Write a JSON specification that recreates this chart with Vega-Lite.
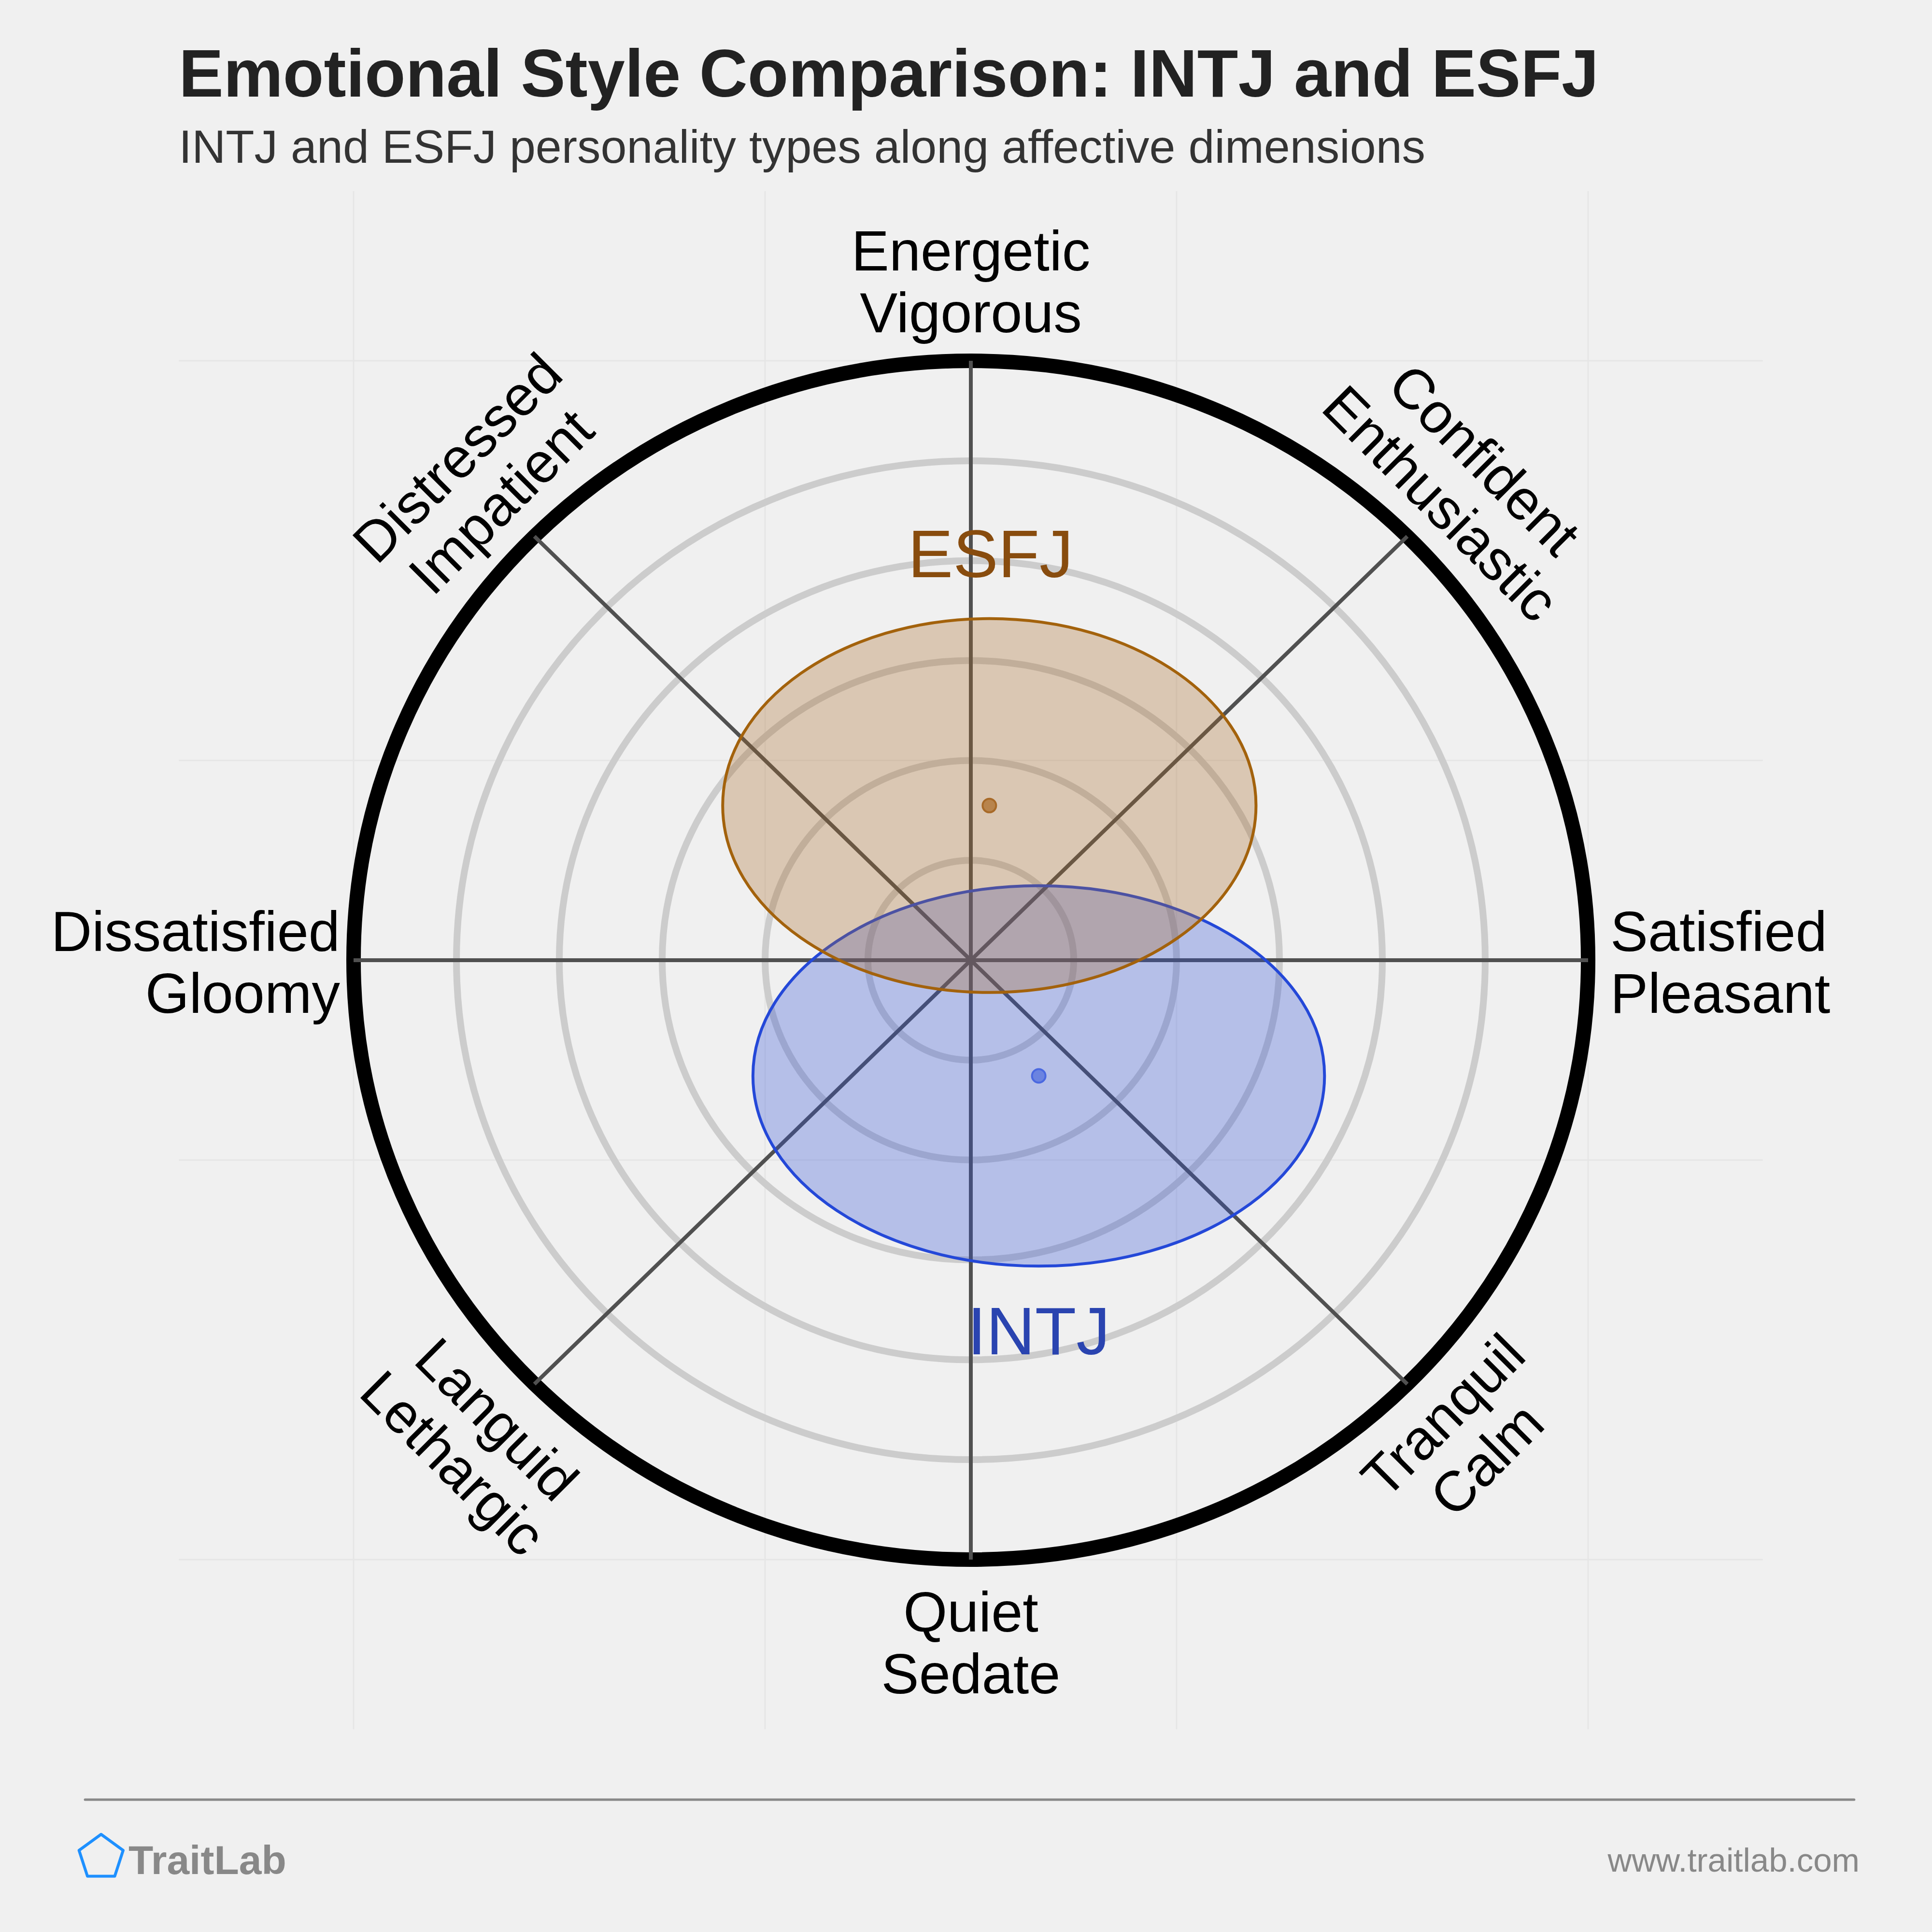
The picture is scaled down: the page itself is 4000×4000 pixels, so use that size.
{
  "$schema": "https://vega.github.io/schema/vega-lite/v6.json",
  "width": 4000,
  "height": 4000,
  "autosize": {"type": "fit", "contains": "padding"},
  "padding": 0,
  "background": "#f0f0f0",
  "config": {"view": {"stroke": null}},
  "datasets": {
    "grid": [
      {"x": -1, "y": -1.283, "x2": -1, "y2": 1.283},
      {"x": -0.3333, "y": -1.283, "x2": -0.3333, "y2": 1.283},
      {"x": 0.3333, "y": -1.283, "x2": 0.3333, "y2": 1.283},
      {"x": 1, "y": -1.283, "x2": 1, "y2": 1.283},
      {"x": -1.283, "y": -1, "x2": 1.283, "y2": -1},
      {"x": -1.283, "y": -0.3333, "x2": 1.283, "y2": -0.3333},
      {"x": -1.283, "y": 0.3333, "x2": 1.283, "y2": 0.3333},
      {"x": -1.283, "y": 1, "x2": 1.283, "y2": 1}
    ],
    "rings": [
      {"x": 0, "y": 0, "r": 0.1667},
      {"x": 0, "y": 0, "r": 0.3333},
      {"x": 0, "y": 0, "r": 0.5},
      {"x": 0, "y": 0, "r": 0.6667},
      {"x": 0, "y": 0, "r": 0.8333}
    ],
    "outer": [{"x": 0, "y": 0, "r": 1}],
    "spokes": [
      {"x": -1, "y": 0, "x2": 1, "y2": 0},
      {"x": 0, "y": -1, "x2": 0, "y2": 1},
      {"x": -0.7071, "y": -0.7071, "x2": 0.7071, "y2": 0.7071},
      {"x": -0.7071, "y": 0.7071, "x2": 0.7071, "y2": -0.7071}
    ],
    "types": [
      {"type": "INTJ", "x": 0.11, "y": -0.193, "rx": 0.463, "ry": 0.317},
      {"type": "ESFJ", "x": 0.03, "y": 0.258, "rx": 0.432, "ry": 0.312}
    ],
    "typelabels": [
      {"type": "ESFJ", "x": 0.032, "y": 0.639},
      {"type": "INTJ", "x": 0.11, "y": -0.6575}
    ],
    "labels": [
      {"pos": "top", "text": "Energetic\nVigorous", "x": 0.0, "y": 1.1507},
      {"pos": "top", "text": "Quiet\nSedate", "x": 0.0, "y": -1.1201},
      {"pos": "right", "text": "Satisfied\nPleasant", "x": 1.036, "y": 0.0153},
      {"pos": "left", "text": "Dissatisfied\nGloomy", "x": -1.022, "y": 0.0153},
      {"pos": "d1", "text": "Confident\nEnthusiastic", "x": 0.829, "y": 0.832},
      {"pos": "d1", "text": "Languid\nLethargic", "x": -0.771, "y": -0.769},
      {"pos": "d2", "text": "Distressed\nImpatient", "x": -0.829, "y": 0.835},
      {"pos": "d2", "text": "Tranquil\nCalm", "x": 0.768, "y": -0.763}
    ],
    "texts": [
      {"kind": "title", "text": "Emotional Style Comparison: INTJ and ESFJ", "x": -1.283, "y": 1.4408},
      {"kind": "subtitle", "text": "INTJ and ESFJ personality types along affective dimensions", "x": -1.283, "y": 1.3304},
      {"kind": "brand", "text": "TraitLab", "x": -1.3646, "y": -1.5246},
      {"kind": "url", "text": "www.traitlab.com", "x": 1.4398, "y": -1.5206}
    ],
    "footer": [{"x": -1.435, "x2": 1.431, "y": -1.4005}],
    "logo": [{"x": -1.409, "y": -1.497}]
  },
  "encoding": {
    "x": {"field": "x", "type": "quantitative", "scale": {"domain": [-1.57277, 1.55712], "nice": false, "zero": false}, "axis": null},
    "y": {"field": "y", "type": "quantitative", "scale": {"domain": [-1.62127, 1.60193], "nice": false, "zero": false}, "axis": null}
  },
  "layer": [
    {
      "data": {"name": "grid"},
      "mark": {"type": "rule", "stroke": "#e6e6e6", "strokeWidth": 3},
      "encoding": {"x2": {"field": "x2"}, "y2": {"field": "y2"}}
    },
    {
      "data": {"name": "rings"},
      "mark": {"type": "point", "shape": "M1,0C1,0.5363,0.5523,0.971,0,0.971C-0.5523,0.971,-1,0.5363,-1,0C-1,-0.5363,-0.5523,-0.971,0,-0.971C0.5523,-0.971,1,-0.5363,1,0Z", "filled": false, "stroke": "#cccccc", "strokeWidth": 14, "opacity": 1},
      "encoding": {"size": {"field": "r", "type": "quantitative", "scale": {"type": "pow", "exponent": 2, "domain": [0, 1], "range": [0, 6533136]}, "legend": null}}
    },
    {
      "data": {"name": "outer"},
      "mark": {"type": "point", "shape": "M1,0C1,0.5363,0.5523,0.971,0,0.971C-0.5523,0.971,-1,0.5363,-1,0C-1,-0.5363,-0.5523,-0.971,0,-0.971C0.5523,-0.971,1,-0.5363,1,0Z", "filled": false, "stroke": "#000000", "strokeWidth": 30, "opacity": 1},
      "encoding": {"size": {"field": "r", "type": "quantitative", "scale": {"type": "pow", "exponent": 2, "domain": [0, 1], "range": [0, 6533136]}, "legend": null}}
    },
    {
      "data": {"name": "spokes"},
      "mark": {"type": "rule", "stroke": "#505050", "strokeWidth": 8},
      "encoding": {"x2": {"field": "x2"}, "y2": {"field": "y2"}}
    },
    {
      "data": {"name": "types"},
      "transform": [{"filter": "datum.type === 'INTJ'"}],
      "mark": {"type": "point", "shape": "M1,0C1,0.3676,0.5523,0.6655,0,0.6655C-0.5523,0.6655,-1,0.3676,-1,0C-1,-0.3676,-0.5523,-0.6655,0,-0.6655C0.5523,-0.6655,1,-0.3676,1,0Z", "filled": true, "fill": "#3050d8", "fillOpacity": 0.3, "stroke": "#2448d8", "strokeWidth": 6, "strokeOpacity": 1, "opacity": 1},
      "encoding": {"size": {"field": "rx", "type": "quantitative", "scale": {"type": "pow", "exponent": 2, "domain": [0, 1], "range": [0, 6533136]}, "legend": null}}
    },
    {
      "data": {"name": "types"},
      "transform": [{"filter": "datum.type === 'ESFJ'"}],
      "mark": {"type": "point", "shape": "M1,0C1,0.3872,0.5523,0.701,0,0.701C-0.5523,0.701,-1,0.3872,-1,0C-1,-0.3872,-0.5523,-0.701,0,-0.701C0.5523,-0.701,1,-0.3872,1,0Z", "filled": true, "fill": "#a86a28", "fillOpacity": 0.3, "stroke": "#a3620c", "strokeWidth": 6, "strokeOpacity": 1, "opacity": 1},
      "encoding": {"size": {"field": "rx", "type": "quantitative", "scale": {"type": "pow", "exponent": 2, "domain": [0, 1], "range": [0, 6533136]}, "legend": null}}
    },
    {
      "data": {"name": "types"},
      "transform": [{"filter": "datum.type === 'INTJ'"}],
      "mark": {"type": "point", "shape": "circle", "size": 784, "filled": true, "fill": "#6b83e0", "stroke": "#4a68e0", "strokeWidth": 4, "opacity": 1}
    },
    {
      "data": {"name": "types"},
      "transform": [{"filter": "datum.type === 'ESFJ'"}],
      "mark": {"type": "point", "shape": "circle", "size": 784, "filled": true, "fill": "#b8844c", "stroke": "#a86a28", "strokeWidth": 4, "opacity": 1}
    },
    {
      "data": {"name": "typelabels"},
      "transform": [{"filter": "datum.type === 'ESFJ'"}],
      "mark": {"type": "text", "font": "Liberation Sans", "fontSize": 140, "align": "center", "baseline": "alphabetic", "color": "#884c0e"},
      "encoding": {"text": {"field": "type"}}
    },
    {
      "data": {"name": "typelabels"},
      "transform": [{"filter": "datum.type === 'INTJ'"}],
      "mark": {"type": "text", "font": "Liberation Sans", "fontSize": 140, "align": "center", "baseline": "alphabetic", "color": "#2a44b0"},
      "encoding": {"text": {"field": "type"}}
    },
    {
      "data": {"name": "labels"},
      "transform": [{"filter": "datum.pos === 'top'"}],
      "mark": {"type": "text", "font": "Liberation Sans", "fontSize": 117, "lineHeight": 128, "lineBreak": "\n", "align": "center", "baseline": "alphabetic", "color": "#000000"},
      "encoding": {"text": {"field": "text"}}
    },
    {
      "data": {"name": "labels"},
      "transform": [{"filter": "datum.pos === 'right'"}],
      "mark": {"type": "text", "font": "Liberation Sans", "fontSize": 117, "lineHeight": 128, "lineBreak": "\n", "align": "left", "baseline": "alphabetic", "color": "#000000"},
      "encoding": {"text": {"field": "text"}}
    },
    {
      "data": {"name": "labels"},
      "transform": [{"filter": "datum.pos === 'left'"}],
      "mark": {"type": "text", "font": "Liberation Sans", "fontSize": 117, "lineHeight": 128, "lineBreak": "\n", "align": "right", "baseline": "alphabetic", "color": "#000000"},
      "encoding": {"text": {"field": "text"}}
    },
    {
      "data": {"name": "labels"},
      "transform": [{"filter": "datum.pos === 'd1'"}],
      "mark": {"type": "text", "font": "Liberation Sans", "fontSize": 117, "lineHeight": 128, "lineBreak": "\n", "align": "center", "baseline": "middle", "angle": 45, "color": "#000000"},
      "encoding": {"text": {"field": "text"}}
    },
    {
      "data": {"name": "labels"},
      "transform": [{"filter": "datum.pos === 'd2'"}],
      "mark": {"type": "text", "font": "Liberation Sans", "fontSize": 117, "lineHeight": 128, "lineBreak": "\n", "align": "center", "baseline": "middle", "angle": -45, "color": "#000000"},
      "encoding": {"text": {"field": "text"}}
    },
    {
      "data": {"name": "texts"},
      "transform": [{"filter": "datum.kind === 'title'"}],
      "mark": {"type": "text", "font": "Liberation Sans", "fontSize": 138.5, "fontWeight": "bold", "align": "left", "baseline": "alphabetic", "color": "#222222"},
      "encoding": {"text": {"field": "text"}}
    },
    {
      "data": {"name": "texts"},
      "transform": [{"filter": "datum.kind === 'subtitle'"}],
      "mark": {"type": "text", "font": "Liberation Sans", "fontSize": 97, "align": "left", "baseline": "alphabetic", "color": "#333333"},
      "encoding": {"text": {"field": "text"}}
    },
    {
      "data": {"name": "texts"},
      "transform": [{"filter": "datum.kind === 'brand'"}],
      "mark": {"type": "text", "font": "Liberation Sans", "fontSize": 84, "fontWeight": "bold", "align": "left", "baseline": "alphabetic", "color": "#888888"},
      "encoding": {"text": {"field": "text"}}
    },
    {
      "data": {"name": "texts"},
      "transform": [{"filter": "datum.kind === 'url'"}],
      "mark": {"type": "text", "font": "Liberation Sans", "fontSize": 69, "align": "right", "baseline": "alphabetic", "color": "#888888"},
      "encoding": {"text": {"field": "text"}}
    },
    {
      "data": {"name": "footer"},
      "mark": {"type": "rule", "stroke": "#888888", "strokeWidth": 5, "strokeCap": "round"},
      "encoding": {"x2": {"field": "x2"}}
    },
    {
      "data": {"name": "logo"},
      "mark": {"type": "point", "shape": "M0,-1L0.9511,-0.309L0.5878,0.809L-0.5878,0.809L-0.9511,-0.309Z", "size": 9216, "filled": false, "stroke": "#1e90ff", "strokeWidth": 6, "strokeJoin": "round", "opacity": 1}
    }
  ]
}
